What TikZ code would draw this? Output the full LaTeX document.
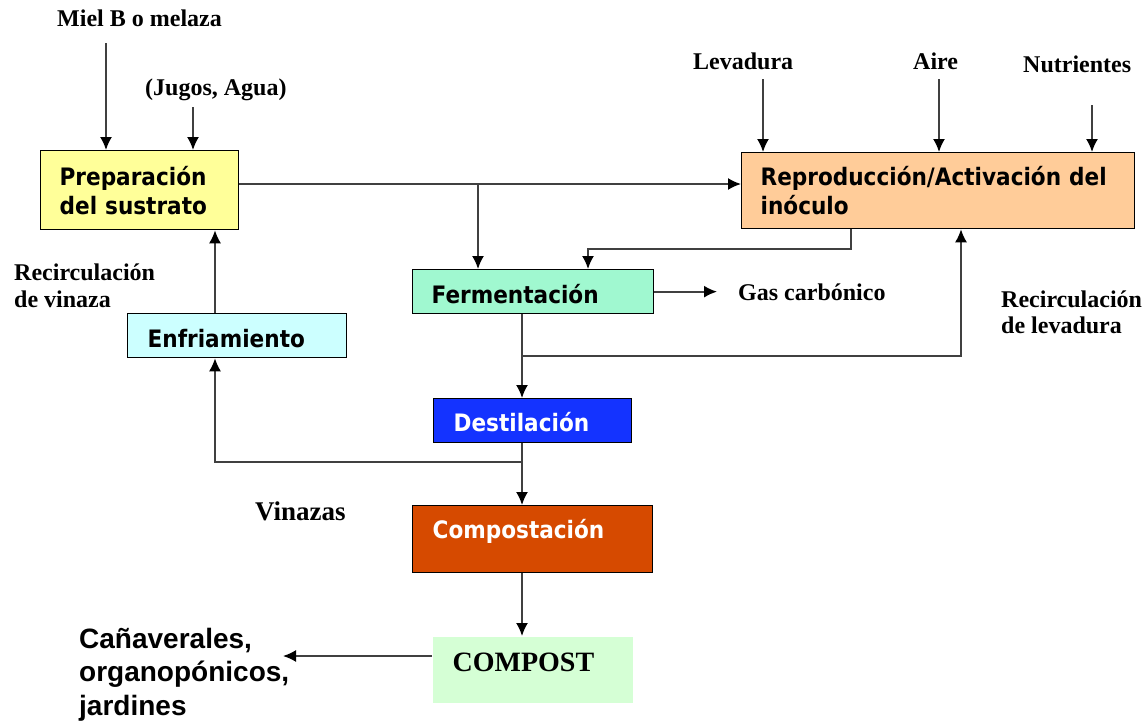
\documentclass[tikz,border=0pt]{standalone}
\usepackage{fontspec}
\setmainfont{Liberation Serif}
\newfontfamily\boxfont{DejaVu Sans}[FakeStretch=0.9]
\newfontfamily\arialfont{Liberation Sans}
\usetikzlibrary{arrows.meta}
\definecolor{prepfill}{HTML}{FFFF99}
\definecolor{reprofill}{HTML}{FFCC99}
\definecolor{fermfill}{HTML}{A0F8D0}
\definecolor{enfrfill}{HTML}{CCFFFF}
\definecolor{destfill}{HTML}{1433FF}
\definecolor{compfill}{HTML}{D64A00}
\definecolor{compostfill}{HTML}{D5FFD5}

\begin{document}
\begin{tikzpicture}[x=1pt, y=-1pt,
    box/.style = {draw=black, line width=1.3pt, anchor=north west, inner ysep=0pt, inner xsep=19pt, align=left, font=\boxfont\bfseries\fontsize{24}{29}\selectfont},
    lbl/.style = {anchor=base west, inner sep=0pt, align=left, font=\bfseries\fontsize{24}{27}\selectfont},
    arr/.style = {draw=black!75, line width=1.7pt, -{Latex[length=13pt, width=12pt, color=black]}}]
    \useasboundingbox[fill=white] (0,0) rectangle (1144,723);

    %%%%%%%%%%%%%%%%%%% Boxes
    \node[box, fill=prepfill, text width=160pt, minimum height=79pt] (prep) at (40,150) {Preparación\\del sustrato};
    \node[box, fill=reprofill, inner xsep=19pt, text width=355pt, minimum height=76pt] (repro) at (741,152) {\mbox{Reproducción/Activación del}\\inóculo};
    \node[box, fill=fermfill, text width=203pt, text height=34pt, text depth=10pt] (ferm) at (412,269) {Fermentación};
    \node[box, fill=enfrfill, inner xsep=20pt, text width=179pt, text height=34pt, text depth=10pt] (enfr) at (127,313) {Enfriamiento};
    \node[box, fill=destfill, text=white, inner xsep=20pt, text width=158pt, text height=33pt, text depth=11pt] (dest) at (433,398) {Destilación};
    \node[box, fill=compfill, text=white, inner xsep=20pt, text width=200pt, text height=33pt, text depth=34pt] (comp) at (412,505) {Compostación};
    \node[box, draw=none, fill=compostfill, inner xsep=20pt, text width=160pt, text height=35pt, text depth=31pt, font=\bfseries\fontsize{28}{32}\selectfont] (compost) at (432,636) {COMPOST};

    %%%%%%%%%%%%%%%%%%% Labels
    \node[lbl] (miel) at (57,26) {Miel B o melaza};
    \node[lbl] (jugos) at (145,95) {(Jugos, Agua)};
    \node[lbl] (levad) at (693,69) {Levadura};
    \node[lbl] (aire) at (913,69) {Aire};
    \node[lbl] (nutri) at (1023,72) {Nutrientes};
    \node[lbl] (recvin) at (14,307) {Recirculación\\de vinaza};
    \node[lbl, font=\bfseries\fontsize{24}{26}\selectfont] (reclev) at (1001,333) {Recirculación\\de levadura};
    \node[lbl] (gas) at (738,300) {Gas carbónico};
    \node[lbl, font=\bfseries\fontsize{27}{32}\selectfont] (vinazas) at (255,520) {Vinazas};
    \node[lbl, font=\arialfont\bfseries\fontsize{28}{33.5}\selectfont] (destino) at (79,715) {Cañaverales,\\organopónicos,\\jardines};

    %%%%%%%%%%%%%%%%%%% Inputs
    \coordinate (mielin) at (106,43);
    \coordinate (jugin) at (193,107);
    \coordinate (levin) at (763,79);
    \coordinate (airein) at (939,79);
    \coordinate (nutin) at (1092,105);
    \draw[arr] (mielin) -- (mielin |- prep.north);
    \draw[arr] (jugin) -- (jugin |- prep.north);
    \draw[arr] (levin) -- (levin |- repro.north);
    \draw[arr] (airein) -- (airein |- repro.north);
    \draw[arr] (nutin) -- (nutin |- repro.north);

    %%%%%%%%%%%%%%%%%%% Main line
    \coordinate (ymain) at (0,184);
    \coordinate (xsplit) at (478,0);
    \draw[arr] (prep.east |- ymain) -- (repro.west |- ymain);
    \draw[arr] (xsplit |- ymain) -- (xsplit |- ferm.north);
    \coordinate (inoc) at (851,249);
    \coordinate (inocend) at (588,249);
    \draw[arr] (inoc |- repro.south) -- (inoc) -- (inocend) -- (inocend |- ferm.north);
    \coordinate (gasend) at (717,0);
    \draw[arr] (ferm.east) -- (ferm.east -| gasend);

    %%%%%%%%%%%%%%%%%%% Recirculations
    \coordinate (xmid) at (522,0);
    \coordinate (levsplit) at (522,356);
    \coordinate (xlev) at (961,0);
    \draw[arr] (ferm.south -| xmid) -- (dest.north -| xmid);
    \draw[arr] (levsplit) -- (levsplit -| xlev) -- (xlev |- repro.south);
    \coordinate (vinsplit) at (522,462);
    \coordinate (xvin) at (215,0);
    \draw[arr] (dest.south -| xmid) -- (comp.north -| xmid);
    \draw[arr] (vinsplit) -- (vinsplit -| xvin) -- (xvin |- enfr.south);
    \draw[arr] (enfr.north -| xvin) -- (xvin |- prep.south);

    %%%%%%%%%%%%%%%%%%% Compost
    \coordinate (cpend) at (283,656);
    \draw[arr] (comp.south -| xmid) -- (compost.north -| xmid);
    \draw[arr] (compost.west |- cpend) -- (cpend);
\end{tikzpicture}
\end{document}
